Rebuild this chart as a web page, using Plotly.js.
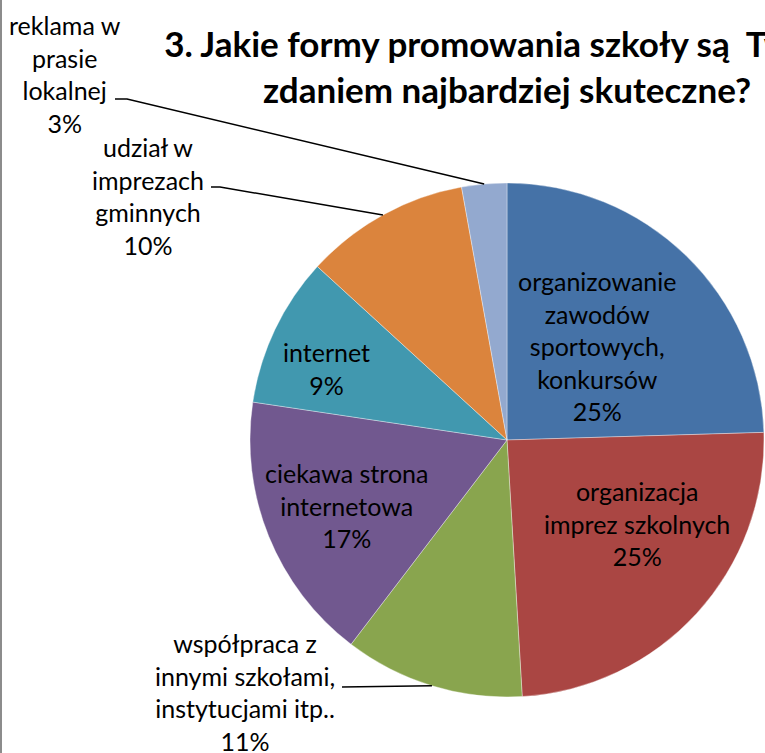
<!DOCTYPE html>
<html>
<head>
<meta charset="utf-8">
<script src="https://cdn.plot.ly/plotly-3.0.1.min.js"></script>
<style>html,body{margin:0;padding:0;background:#fff;}#chart{width:765px;height:753px;}</style>
</head>
<body>
<div id="chart"></div>
<script>
// ---- data ----
var categories = [
  "organizowanie zawodów sportowych, konkursów",
  "organizacja imprez szkolnych",
  "współpraca z innymi szkołami, instytucjami itp..",
  "ciekawa strona internetowa",
  "internet",
  "udział w imprezach gminnych",
  "reklama w prasie lokalnej"
];
var labelLines = [
  "organizowanie<br>zawodów<br>sportowych,<br>konkursów",
  "organizacja<br>imprez szkolnych",
  "współpraca z<br>innymi szkołami,<br>instytucjami itp..",
  "ciekawa strona<br>internetowa",
  "internet",
  "udział w<br>imprezach<br>gminnych",
  "reklama w<br>prasie<br>lokalnej"
];
var counts = [26, 26, 12, 18, 10, 11, 3];
var colors = ["#4572A7", "#AA4643", "#89A54E", "#71588F", "#4198AF", "#DB843D", "#93A9CF"];

// ---- geometry / styling (pixels) ----
var W = 765, H = 753;
var cx = 507, cy = 440, R = 257;
function px(x) { return x / W; }
function py(y) { return 1 - y / H; }

// label centers (px) and leader-line text anchors (px) for outside labels
var labelPos = [[597, 346], [637, 523], [245, 692], [346, 506], [326, 368], [148, 196], [65, 74]];
var leaderStart = {2: [342, 687], 5: [211, 187], 6: [115, 99]};
var stub = {2: 0, 5: 9, 6: 12};

var total = counts.reduce(function (a, b) { return a + b; }, 0);
var cum = 0, mids = [];
counts.forEach(function (v) { mids.push((cum + v / 2) / total); cum += v; });

var annotations = labelLines.map(function (t, i) {
  var pct = Math.round(counts[i] / total * 100);
  return {
    text: t + "<br>" + pct + "%",
    x: px(labelPos[i][0]), y: py(labelPos[i][1]),
    xref: "paper", yref: "paper", xanchor: "center", yanchor: "middle",
    showarrow: false, align: "center",
    font: {family: "Lato, 'Noto Sans', sans-serif", size: 25, color: "#000"}
  };
});

var shapes = [{
  type: "rect", xref: "paper", yref: "paper",
  x0: 0, x1: px(2), y0: 0, y1: 1,
  fillcolor: "#8c8c8c", line: {width: 0}
}];
Object.keys(leaderStart).forEach(function (k) {
  var i = +k;
  var a = mids[i] * 2 * Math.PI;
  var ex = cx + R * Math.sin(a), ey = cy - R * Math.cos(a);
  var s = leaderStart[i];
  var path = "M " + px(s[0]) + "," + py(s[1]) +
             " L " + px(s[0] + stub[i]) + "," + py(s[1]) +
             " L " + px(ex) + "," + py(ey);
  shapes.push({type: "path", xref: "paper", yref: "paper", path: path,
               line: {color: "#000", width: 1.5}});
});

var trace = {
  type: "pie",
  labels: categories,
  values: counts,
  sort: false,
  direction: "clockwise",
  rotation: 0,
  textinfo: "none",
  hoverinfo: "skip",
  marker: {colors: colors, line: {color: "rgba(255,255,255,0.6)", width: 0.6}},
  domain: {x: [px(cx - R), px(cx + R)], y: [py(cy + R), py(cy - R)]},
  showlegend: false
};

var layout = {
  width: W, height: H,
  margin: {l: 0, r: 0, t: 0, b: 0},
  paper_bgcolor: "#fff",
  showlegend: false,
  title: {
    text: "<b>3. Jakie formy promowania szkoły są\u00a0 Twoim<br>zdaniem najbardziej skuteczne?</b>",
    x: px(507), xanchor: "center", xref: "paper",
    y: 1 - 57 / H, yanchor: "top", yref: "container",
    font: {family: "Lato, 'Noto Sans', sans-serif", size: 35, color: "#000"}
  },
  annotations: annotations,
  shapes: shapes
};

Plotly.newPlot("chart", [trace], layout, {displayModeBar: false, staticPlot: true});
</script>
</body>
</html>
